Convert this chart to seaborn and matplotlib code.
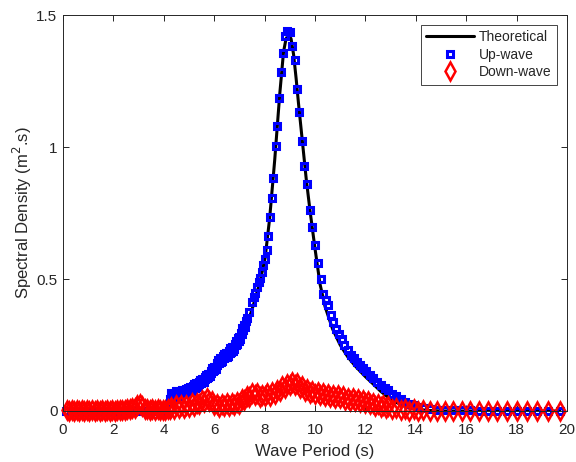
import matplotlib
matplotlib.use("Agg")
import matplotlib.pyplot as plt
import seaborn as sns

# Theoretical spectrum (period in s, density in m^2.s)
theory_period = [4.28, 4.5, 5.0, 5.5, 6.0, 6.5, 7.0, 7.35, 7.55, 7.82, 8.02, 8.2, 8.4, 8.6,
                 8.75, 8.85, 8.95, 9.05, 9.15, 9.25, 9.35, 9.5, 9.65, 9.8, 10.0, 10.2, 10.4,
                 10.7, 11.0, 11.3, 11.6, 12.0, 12.3, 12.6, 12.9, 13.2, 13.5, 13.8, 14.1, 14.5,
                 15.0, 16.0, 17.0, 18.0, 19.0, 19.72]
theory_density = [0.060, 0.064, 0.081, 0.113, 0.160, 0.214, 0.276, 0.340, 0.400, 0.490, 0.580,
                  0.730, 0.950, 1.200, 1.360, 1.410, 1.425, 1.410, 1.350, 1.260, 1.160, 1.020,
                  0.880, 0.760, 0.615, 0.480, 0.395, 0.310, 0.250, 0.205, 0.170, 0.130, 0.103,
                  0.075, 0.052, 0.034, 0.020, 0.011, 0.006, 0.002, 0.0, 0.0, 0.0, 0.0, 0.0, 0.0]

# Up-wave component
up_period = [0.1, 0.3, 0.5, 0.7, 0.9, 1.1, 1.3, 1.5, 1.7, 1.9, 2.1, 2.3, 2.5, 2.7, 2.9, 3.1,
             3.3, 3.5, 3.7, 3.9, 4.1,
             4.24, 4.26, 4.28,
             4.30, 4.33, 4.36, 4.39, 4.42, 4.45, 4.48, 4.51, 4.54, 4.57, 4.60, 4.63, 4.66,
             4.69, 4.72, 4.75, 4.78, 4.81, 4.84, 4.87, 4.90, 4.93, 4.96, 4.99, 5.02, 5.05,
             5.08, 5.11, 5.14, 5.17, 5.20, 5.23, 5.26, 5.29, 5.32, 5.35, 5.38, 5.41, 5.44,
             5.47, 5.50, 5.53, 5.56, 5.59, 5.62, 5.65, 5.68, 5.71, 5.74, 5.77, 5.80, 5.83,
             5.86, 5.89, 5.92, 5.95, 5.98, 6.01, 6.04, 6.07, 6.10, 6.13, 6.16, 6.19, 6.22,
             6.25, 6.28, 6.31, 6.34, 6.37, 6.40, 6.43, 6.46, 6.49, 6.52, 6.55, 6.58, 6.61,
             6.64, 6.67, 6.70, 6.73, 6.76, 6.79, 6.82, 6.85, 6.88, 6.91, 6.94, 6.97, 7.00,
             7.03, 7.06, 7.09, 7.12, 7.15, 7.18, 7.21,
             7.26, 7.31, 7.39, 7.49, 7.56, 7.62, 7.69,
             7.76, 7.82, 7.88, 7.95, 8.02, 8.08, 8.13, 8.21, 8.28, 8.35, 8.44, 8.50, 8.58,
             8.65, 8.74, 8.80, 8.90, 9.01, 9.10, 9.21, 9.27, 9.38, 9.50, 9.58, 9.67, 9.80,
             9.89, 10.00, 10.13, 10.24, 10.33, 10.43, 10.53, 10.63, 10.73, 10.84, 10.95,
             11.06, 11.17, 11.29, 11.41, 11.53, 11.65, 11.78, 11.91, 12.04, 12.18, 12.32,
             12.46, 12.61, 12.76, 12.91, 13.07, 13.23, 13.40, 13.57, 13.74, 13.92, 14.10,
             14.27, 14.56, 14.85, 15.16, 15.49, 15.82, 16.15, 16.50, 16.88, 17.23, 17.60,
             18.00, 18.40, 18.82, 19.26, 19.72]
up_density = [0.0, 0.0, 0.0, 0.0, 0.0, 0.0, 0.0, 0.0, 0.0, 0.0, 0.0, 0.0, 0.0, 0.0, 0.0, 0.0,
              0.0, 0.0, 0.0, 0.0, 0.0,
              0.032, 0.046, 0.060,
              0.069, 0.054, 0.063, 0.052, 0.068, 0.060, 0.074, 0.059, 0.074, 0.058, 0.068,
              0.057, 0.073, 0.065, 0.079, 0.065, 0.080, 0.065, 0.076, 0.065, 0.082, 0.075,
              0.089, 0.076, 0.091, 0.077, 0.087, 0.077, 0.095, 0.088, 0.103, 0.089, 0.105,
              0.091, 0.102, 0.093, 0.111, 0.104, 0.119, 0.106, 0.122, 0.108, 0.120, 0.110,
              0.128, 0.121, 0.137, 0.124, 0.141, 0.128, 0.140, 0.131, 0.150, 0.144, 0.161,
              0.150, 0.167, 0.155, 0.168, 0.160, 0.180, 0.175, 0.192, 0.181, 0.199, 0.187,
              0.199, 0.191, 0.209, 0.202, 0.217, 0.204, 0.220, 0.206, 0.218, 0.209, 0.227,
              0.221, 0.237, 0.224, 0.241, 0.229, 0.242, 0.234, 0.254, 0.249, 0.265, 0.255,
              0.275, 0.265, 0.280, 0.274, 0.296, 0.293, 0.313, 0.305, 0.326, 0.317,
              0.340, 0.351, 0.376, 0.414, 0.430, 0.446, 0.471,
              0.490, 0.503, 0.528, 0.552, 0.575,
              0.610, 0.663, 0.734, 0.808, 0.884, 1.005, 1.080, 1.184, 1.285, 1.355, 1.420,
              1.440, 1.434, 1.383, 1.330, 1.220, 1.134, 1.023, 0.929, 0.860, 0.761, 0.698,
              0.629, 0.562, 0.499, 0.443, 0.420, 0.400, 0.364, 0.338, 0.310, 0.290, 0.272,
              0.250, 0.230, 0.212, 0.199, 0.187, 0.175, 0.162, 0.150, 0.137, 0.124, 0.111,
              0.099, 0.088, 0.078, 0.066, 0.055, 0.044, 0.035, 0.027, 0.021, 0.015, 0.011,
              0.007, 0.005, 0.004, 0.003, 0.002, 0.002, 0.001, 0.001, 0.001, 0.001, 0.001,
              0.001, 0.001, 0.001, 0.001]

# Down-wave component
down_period = [0.15, 0.25, 0.35, 0.45, 0.55, 0.65, 0.75, 0.85, 0.95, 1.05, 1.15, 1.25, 1.35,
               1.45, 1.55, 1.65, 1.75, 1.85, 1.95, 2.05, 2.15, 2.25, 2.35, 2.45, 2.55, 2.65,
               2.75, 2.85, 2.95, 3.05, 3.15, 3.25, 3.35, 3.45, 3.55, 3.65, 3.75, 3.85, 3.95,
               4.05, 4.15, 4.25,
               4.3, 4.4, 4.5, 4.6, 4.7, 4.8, 4.9, 5.0, 5.1, 5.2, 5.3, 5.4, 5.5, 5.6, 5.7, 5.8,
               5.9, 6.0, 6.1, 6.2, 6.3, 6.4, 6.5, 6.6, 6.7, 6.8, 6.9, 7.0, 7.1, 7.2, 7.3, 7.4,
               7.5, 7.6, 7.7, 7.8, 7.9, 8.0, 8.1, 8.2, 8.3, 8.4, 8.5, 8.6, 8.7, 8.8, 8.9, 9.0,
               9.1, 9.2, 9.3, 9.4, 9.5, 9.6, 9.7, 9.8, 9.9, 10.0, 10.1, 10.2, 10.3, 10.4, 10.5,
               10.6, 10.7, 10.8, 10.9, 11.0, 11.1, 11.2, 11.3, 11.4, 11.5, 11.6, 11.7, 11.8,
               11.9, 12.0, 12.1, 12.2, 12.3, 12.4, 12.5, 12.6, 12.7, 12.8, 12.9,
               13.07, 13.23, 13.40, 13.57, 13.74, 13.92, 14.10, 14.27, 14.56, 14.85, 15.16,
               15.49, 15.82, 16.15, 16.50, 16.88, 17.23, 17.60, 18.00, 18.40, 18.82, 19.26,
               19.72]
down_density = [0.004, 0.001, 0.003, 0.000, 0.004, 0.001, 0.003, 0.000, 0.004, 0.001, 0.003,
                0.001, 0.004, 0.000, 0.003, 0.001, 0.004, 0.001, 0.004, 0.001, 0.004, 0.002,
                0.005, 0.003, 0.007, 0.007, 0.012, 0.013, 0.024, 0.025, 0.020, 0.008, 0.008,
                0.003, 0.006, 0.002, 0.006, 0.003, 0.005, 0.003, 0.008, 0.007,
                0.015, 0.008, 0.021, 0.013, 0.023, 0.012, 0.024, 0.017, 0.029, 0.019, 0.031,
                0.025, 0.040, 0.035, 0.049, 0.037, 0.039, 0.022, 0.027, 0.015, 0.027, 0.019,
                0.030, 0.019, 0.031, 0.023, 0.035, 0.028, 0.045, 0.041, 0.057, 0.053, 0.067,
                0.059, 0.067, 0.053, 0.062, 0.055, 0.067, 0.058, 0.071, 0.066, 0.081, 0.077,
                0.093, 0.089, 0.104, 0.097, 0.110, 0.099, 0.105, 0.089, 0.093, 0.077, 0.082,
                0.068, 0.075, 0.063, 0.071, 0.059, 0.067, 0.056, 0.065, 0.053, 0.062, 0.050,
                0.059, 0.048, 0.055, 0.042, 0.050, 0.039, 0.048, 0.036, 0.045, 0.033, 0.041,
                0.029, 0.037, 0.025, 0.032, 0.020, 0.027, 0.014, 0.022, 0.010, 0.018,
                0.006, 0.012, 0.002, 0.009, 0.000, 0.006, 0.000, 0.003, 0.0, 0.0, 0.0,
                0.0, 0.0, 0.0, 0.0, 0.0, 0.0, 0.0, 0.0, 0.0, 0.0, 0.0, 0.0]

x_ticks = [0, 2, 4, 6, 8, 10, 12, 14, 16, 18, 20]
y_ticks = [0, 0.5, 1, 1.5]
y_tick_labels = ["0", "0.5", "1", "1.5"]

sns.set_style("ticks")
plt.rcParams["font.family"] = ["Liberation Sans", "DejaVu Sans"]
axis_gray = "#262626"

fig, ax = plt.subplots(figsize=(5.76, 4.62), dpi=100)
fig.subplots_adjust(left=0.1094, right=0.9844, bottom=0.1104, top=0.9675)

sns.lineplot(x=theory_period, y=theory_density, ax=ax, estimator=None, sort=False,
             color="black", linewidth=2.2, label="Theoretical")
sns.lineplot(x=up_period, y=up_density, ax=ax, estimator=None, sort=False,
             color="blue", linestyle="none", marker="s", markersize=5,
             markerfacecolor="none", markeredgecolor="blue", markeredgewidth=2.2,
             label="Up-wave", clip_on=False)
sns.lineplot(x=down_period, y=down_density, ax=ax, estimator=None, sort=False,
             color="red", linestyle="none", marker="d", markersize=9,
             markerfacecolor="none", markeredgecolor="red", markeredgewidth=1.8,
             label="Down-wave", clip_on=False)

ax.set_xlim(0, 20)
ax.set_ylim(0, 1.5)
ax.set_xticks(x_ticks)
ax.set_yticks(y_ticks)
ax.set_yticklabels(y_tick_labels)
ax.tick_params(direction="in", top=True, right=True, length=4, width=0.7,
               colors=axis_gray, labelsize=11)
ax.tick_params(axis="x", pad=9)
ax.tick_params(axis="y", pad=4)
for side in ["top", "bottom", "left", "right"]:
    ax.spines[side].set_visible(True)
    ax.spines[side].set_color(axis_gray)
    ax.spines[side].set_linewidth(0.7)

ax.set_xlabel("Wave Period (s)", fontsize=12, color=axis_gray, labelpad=5)
ax.set_ylabel("Spectral Density (m$^2$.s)", fontsize=12, color=axis_gray, labelpad=2)

leg = ax.legend(loc="upper right", fontsize=10, frameon=True, fancybox=False,
                framealpha=1, edgecolor=axis_gray, handlelength=3.4, numpoints=1,
                borderaxespad=0.7, labelspacing=0.25, handletextpad=0.4, borderpad=0.4)
leg.get_frame().set_linewidth(0.6)

fig.savefig("out.png", dpi=100)
